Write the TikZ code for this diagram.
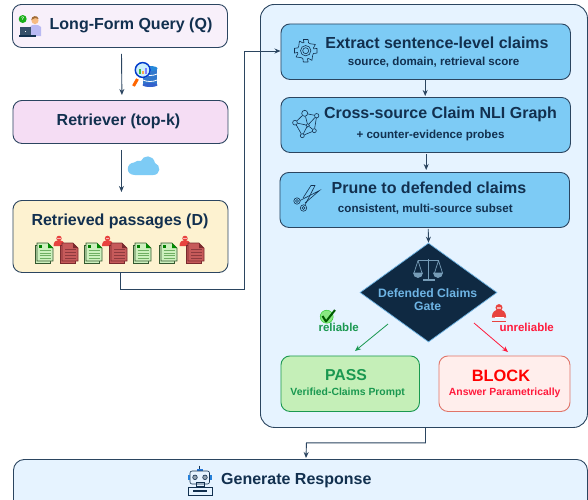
\documentclass[tikz,border=0pt]{standalone}
\usepackage{fontspec}
\setmainfont{Liberation Sans}
\usetikzlibrary{arrows.meta,shapes.geometric}
\definecolor{ink}{HTML}{12304F}
\definecolor{edge}{HTML}{2B4560}
\definecolor{qfill}{HTML}{F8F0FA}
\definecolor{rfill}{HTML}{F5DDF4}
\definecolor{dfill}{HTML}{FDF2D0}
\definecolor{panel}{HTML}{E6F3FF}
\definecolor{sky}{HTML}{7DCBF5}
\definecolor{navy}{HTML}{0F2942}
\definecolor{gatetext}{HTML}{6EB4E4}
\definecolor{passfill}{HTML}{C5EFB8}
\definecolor{passline}{HTML}{1A9850}
\definecolor{blockfill}{HTML}{FFEEEC}
\definecolor{blockline}{HTML}{E07468}
\definecolor{hotred}{HTML}{FF1A3C}
\definecolor{hack}{HTML}{E8433F}
\definecolor{docgreen}{HTML}{CDF0BE}
\definecolor{docgreenline}{HTML}{35582F}
\definecolor{docgreenrule}{HTML}{6FAE62}
\definecolor{docred}{HTML}{C65A5A}
\definecolor{docredline}{HTML}{7A2A2E}
\definecolor{docredrule}{HTML}{8E3A3E}
\tikzset{
  box/.style={draw=edge,line width=.9pt,rounded corners=9pt,inner sep=0pt,anchor=north west},
  stepbox/.style={box,fill=sky},
  txt/.style={inner sep=0pt,text=ink,font=\bfseries\fontsize{#1}{#1}\selectfont},
  link/.style={draw=edge,line width=.9pt,-{Stealth[length=6pt,width=5pt]}},
  iconline/.style={draw=ink,line width=.6pt},
  pics/gooddoc/.style={code={
    \fill[draw=docgreenline,line width=.7pt,fill=docgreen] (0,2)--(15,2)--(15,20)--(0,20)--cycle;
    \fill[draw=docgreenline,line width=.7pt,fill=docgreen] (2,0)--(13,0)--(18,5)--(18,18)--(2,18)--cycle;
    \fill[green!55!black] (13,0)--(18,5)--(13,5)--cycle;
    \fill[green!50!black] (4,2) rectangle (7,5);
    \foreach \yy in {7.5,10,12.5,15}{\draw[docgreenrule,line width=.5pt] (4.5,\yy)--(16,\yy);}
  }},
  pics/baddoc/.style={code={
    \fill[draw=docredline,line width=.7pt,fill=docred] (0,2)--(15,2)--(15,20)--(0,20)--cycle;
    \fill[draw=docredline,line width=.7pt,fill=docred] (2,0)--(13,0)--(18,5)--(18,18)--(2,18)--cycle;
    \fill[docredline] (13,0)--(18,5)--(13,5)--cycle;
    \foreach \yy in {6,9,12,15}{\draw[docredrule,line width=.6pt] (5,\yy)--(15.5,\yy);}
  }},
  pics/hacker/.style={code={
    \fill[hack] (0,2.4) circle (2.7);
    \fill[hack] (-5.5,10) .. controls (-5.5,5.5) and (-3,4) .. (0,4) .. controls (3,4) and (5.5,5.5) .. (5.5,10) -- cycle;
    \fill[white,opacity=.6] (-1.6,1.7) rectangle (1.6,3.2);
  }}
}
\begin{document}
\begin{tikzpicture}[x=1pt,y=-1pt]
\useasboundingbox (0,0) rectangle (588,499);
\clip (0,0) rectangle (588,499);
\fill[white] (0,0) rectangle (588,499);

% left column
\node[box,fill=qfill,minimum width=215pt,minimum height=43pt] (q) at (12,4) {};
\node[box,fill=rfill,minimum width=215pt,minimum height=43pt] (r) at (12.5,100) {};
\node[box,fill=dfill,minimum width=215pt,minimum height=72pt] (d) at (12.5,200) {};
\node[txt=16] (qt) at (131,25.7) {Long-Form Query (Q)};
\node[txt=16] (rt) at (118.5,121.7) {Retriever (top-k)};
\node[txt=16] (dt) at (120,221.7) {Retrieved passages (D)};

% panel and generate box
\node[box,fill=panel,rounded corners=14pt,minimum width=327pt,minimum height=423pt] (panel) at (260,4) {};
\node[box,fill=panel,rounded corners=11pt,minimum width=574pt,minimum height=60pt] (gen) at (13,459) {};
\node[txt=16] (gt) at (296.3,480.7) {Generate Response};

% steps
\node[stepbox,minimum width=289.5pt,minimum height=55.5pt] (s1) at (280.5,23.5) {};
\node[stepbox,minimum width=289.5pt,minimum height=55pt] (s2) at (280.5,97) {};
\node[stepbox,minimum width=289.5pt,minimum height=55pt] (s3) at (279.5,172) {};
\node[txt=16] at (437,43) {Extract sentence-level claims};
\node[txt=11.6] at (433.7,62) {source, domain, retrieval score};
\node[txt=16] at (440.5,114) {Cross-source Claim NLI Graph};
\node[txt=11.6] at (430.5,135) {+ counter-evidence probes};
\node[txt=16] at (429,188) {Prune to defended claims};
\node[txt=11.6] at (425.3,209) {consistent, multi-source subset};

% gate
\node[diamond,draw=gatetext,fill=navy,line width=.7pt,inner sep=0pt,minimum width=137pt,minimum height=99pt,aspect=1.38] (gate) at (428.5,292.5) {};
\node[txt=12.2,text=gatetext,align=center] at (427.7,292.7) {Defended Claims};
\node[txt=12.2,text=gatetext] at (427.7,306.7) {Gate};

% outcomes
\node[box,draw=passline,fill=passfill,minimum width=138.5pt,minimum height=55.5pt] (pass) at (280.5,355.5) {};
\node[box,draw=blockline,fill=blockfill,minimum width=131pt,minimum height=55.5pt] (block) at (438.5,355.5) {};
\node[txt=15.8,text=passline] at (346,375) {PASS};
\node[txt=10.4,text=passline] at (347.7,393) {Verified-Claims Prompt};
\node[txt=16.4,text=red] at (501,376) {BLOCK};
\node[txt=10.4,text=hotred] at (504.7,393) {Answer Parametrically};
\node[txt=11.5,text=passline] (rel) at (338.7,327) {reliable};
\node[txt=11.5,text=hotred] (unrel) at (526.7,327) {unreliable};

% connectors
\draw[link,shorten <=6pt,shorten >=5pt] ([xshift=1.5pt]q.south) -- ([xshift=1.5pt]r.north);
\draw[link,shorten <=6pt,shorten >=8pt] ([xshift=1pt]r.south) -- ([xshift=1pt]d.north);
\draw[link] ([xshift=-.5pt]d.south) |- ++(0,17) -| (244,51) -- (s1.west |- 0,51);
\draw[link,shorten >=1pt] ([xshift=-.5pt]s1.south) -- ([xshift=-.5pt]s2.north);
\draw[link,shorten <=1.5pt,shorten >=2pt] ([xshift=.5pt]s2.south) -- ([xshift=1.5pt]s3.north);
\draw[link,shorten <=1pt] ([xshift=3.5pt]s3.south) -- (gate.north);
\draw[draw=passline,line width=.8pt,-{Stealth[length=6pt,width=5pt]}] (388,324) -- (355,351);
\draw[draw=hotred,line width=.8pt,-{Stealth[length=6pt,width=5pt]}] (474,323) -- (508,352);
\draw[link] ([xshift=1.5pt]panel.south) |- ++(-119,15) -- (306,458);

% query icon
\fill[green!65!black!90!white] (22.7,19) circle (4);
\node[inner sep=0pt,text=white,font=\bfseries\fontsize{5}{5}\selectfont] at (22.7,19) {?};
\fill[blue!25!white!90!gray] (30,36) -- (30,27) .. controls (31,24) and (39,24) .. (41,27) -- (41,36) -- cycle;
\fill[orange!45!white!85!brown] (35,20.5) circle (3.6);
\fill[brown!85!black] (31.3,20) .. controls (31,15.5) and (38,14.5) .. (38.6,19) -- (35,18) -- cycle;
\fill[ink!85!white] (19.5,27) rectangle (30.5,35);
\fill[ink] (19,35) rectangle (36,36.5);
\fill[white] (24.5,30.5) rectangle (25.5,31.5);

% search icon
\fill[blue!55!cyan!60!gray] (143,69) rectangle (157,85);
\fill[blue!70!cyan!60!gray] (150,85) ellipse (7.5 and 2);
\fill[blue!45!cyan!70!gray] (150,68.5) ellipse (7.5 and 2.5);
\draw[white,line width=.8pt] (143,74) .. controls (147,76) and (153,76) .. (157,74);
\draw[white,line width=.8pt] (143,80) .. controls (147,82) and (153,82) .. (157,80);
\draw[orange!80!red,line width=3pt] (133.5,86) -- (137.5,79);
\fill[white] (142.7,70) circle (8);
\fill[cyan!20!white] (142.7,70) circle (6.5);
\draw[blue!70!cyan!80!black,line width=1.5pt] (142.7,70) circle (7.4);
\fill[green!50!gray] (139,69) rectangle (141,74);
\fill[orange!70] (142,71) rectangle (144,74);
\fill[blue!50] (145,68) rectangle (147,74);

% cloud icon
\fill[sky] (135,175) .. controls (125,175) and (126,163) .. (134,162.5) .. controls (136,161) and (139,160) .. (141,161) .. controls (143,155) and (153,154) .. (155,163) .. controls (161,165) and (161,175) .. (153,175) -- cycle;

% documents
\foreach \px/\kind in {35/gooddoc,84/gooddoc,133/gooddoc,159/gooddoc}{
  \pic at (\px,243) {\kind};
}
\foreach \px in {59,107.5,185}{\pic at (\px,236) {hacker};}
\foreach \px/\kind in {60/baddoc,109/baddoc,186/baddoc}{
  \pic at (\px,243) {\kind};
}

% gear
\draw[iconline] (305.7,50.7) circle (3);
\draw[iconline] (305.7,50.7) circle (5.2);
\draw[iconline,line join=round,shift={(305.7,50.7)}]
  (-12:11.5) -- (12:11.5) -- (20:8.3) -- (33:8.3) -- (57:11.5) -- (70:8.3) -- (78:8.3)
  -- (90-12:11.5) -- (90+12:11.5) -- (110:8.3) -- (123:8.3) -- (147:11.5) -- (160:8.3) -- (168:8.3)
  -- (180-12:11.5) -- (180+12:11.5) -- (200:8.3) -- (213:8.3) -- (237:11.5) -- (250:8.3) -- (258:8.3)
  -- (270-12:11.5) -- (270+12:11.5) -- (290:8.3) -- (303:8.3) -- (327:11.5) -- (340:8.3) -- (348:8.3) -- cycle;

% graph icon
\foreach \n/\gx/\gy/\gr in {ga/304.7/113.3/3,gb/316.7/115.7/2.2,gc/295/122.7/2.4,gd/307.7/125.3/1.8,ge/314.3/130.7/2,gf/302.3/135.7/2}{
  \node[circle,draw=ink,line width=.6pt,inner sep=0pt,minimum size=2*\gr pt] (\n) at (\gx,\gy) {};
}
\foreach \p/\o in {ga/gb,ga/gc,ga/gd,gb/gd,gb/ge,gc/gd,gc/gf,gd/ge,gd/gf,ge/gf}{
  \draw[iconline] (\p) -- (\o);
}

% scissors
\draw[iconline] (297,201) circle (3.2);
\draw[iconline] (303.5,208) circle (3.2);
\draw[iconline] (300,200.5) -- (319.5,190.5) -- (305,203);
\draw[iconline] (305,205) -- (315,185.5) -- (311,185.5) -- (303,198);
\draw[iconline] (297,201) circle (1.5);
\draw[iconline] (303.5,208) circle (1.5);

% scales
\begin{scope}[draw=gatetext!55!gray,line width=.7pt]
\draw (428.3,259) -- (428.3,279);
\draw (418,260.5) -- (438.5,260.5);
\draw (418,260.5) -- (414,273) (418,260.5) -- (422,273);
\draw (438.5,260.5) -- (434.5,273) (438.5,260.5) -- (442.5,273);
\draw[fill=gatetext!55!gray] (413.5,273) arc[start angle=180,end angle=0,radius=4.5] -- cycle;
\draw[fill=gatetext!55!gray] (433.5,273) arc[start angle=180,end angle=0,radius=4.5] -- cycle;
\draw[fill=white!75!gatetext] (423,280.5) rectangle (434,279);
\end{scope}

% check
\fill[passfill!70!green!90!gray,draw=green!60!gray,line width=.5pt] (326.7,316.7) circle (6.5);
\draw[green!35!black,line width=2pt,line join=round] (322.5,316) -- (326,321.5) -- (335,310);

% red hacker
\pic[scale=1.3] at (499,304.5) {hacker};
\fill[white] (494.5,317) rectangle (503.5,317.8);
\draw[hack,line width=1pt] (492,321) -- (506,321);

% robot
\draw[iconline,fill=panel] (199.5,465.5) -- (199.5,470);
\fill[blue!55!cyan!70!gray] (196.5,469) rectangle (203,471);
\draw[iconline,fill=panel,rounded corners=2pt] (190,471) rectangle (209.5,484);
\fill[blue!50!cyan!70!gray] (187.5,474.5) rectangle (190,480);
\fill[blue!50!cyan!70!gray] (209.5,474.5) rectangle (212,480);
\draw[iconline,fill=ink!45!white] (195,477.3) circle (2.3);
\draw[iconline,fill=ink!45!white] (205,477.3) circle (2.3);
\draw[iconline] (196,482) rectangle (204,486);
\draw[iconline,fill=panel] (188,487.5) rectangle (212,495);
\fill[ink] (193,490) rectangle (207,491.5);
\end{tikzpicture}
\end{document}
